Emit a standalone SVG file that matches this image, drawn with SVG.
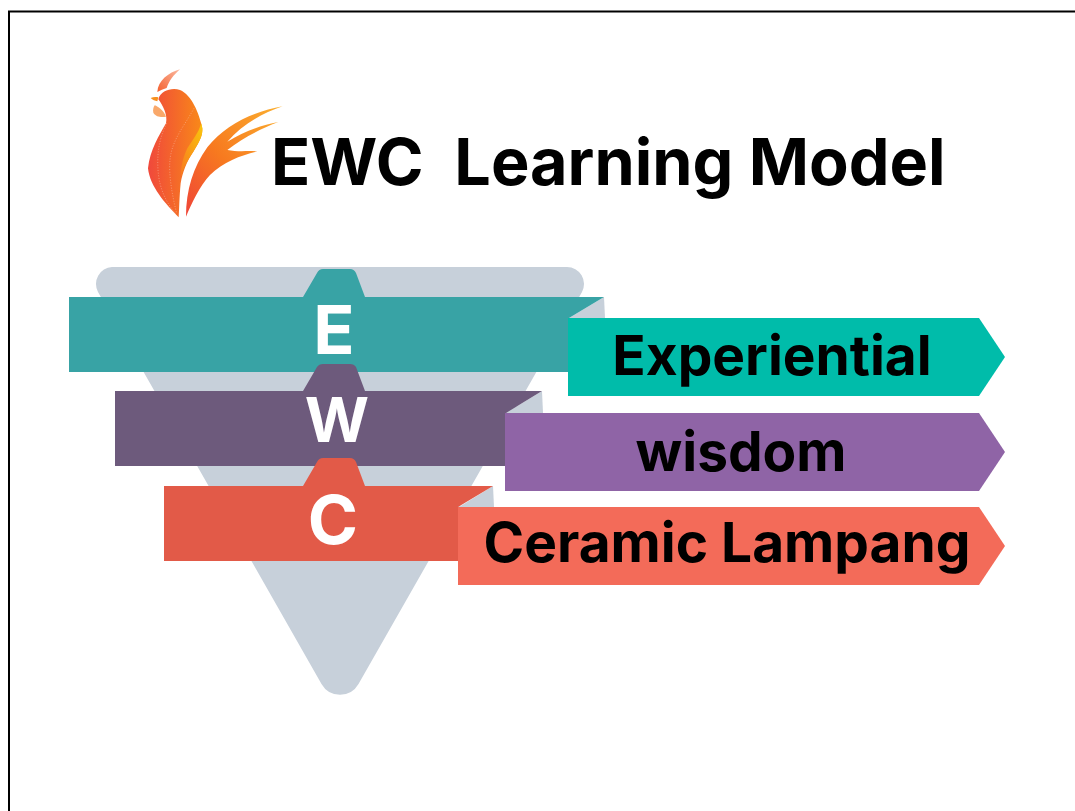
<svg xmlns="http://www.w3.org/2000/svg" width="1075" height="811" viewBox="0 0 1075 811">
<style>
.t{font-family:Inter,"Liberation Sans",sans-serif;font-weight:700;white-space:pre}
.l{font-size:55px;fill:#000;text-anchor:middle}
.k{font-size:68px;fill:#fff;text-anchor:middle}
.f{fill:#c7d0da}
.d{fill:none;stroke:#fbc9b0;stroke-width:1.5;stroke-dasharray:3 5}
</style>
<defs>
<linearGradient id="g1" x1="0" y1="0" x2="1" y2="0"><stop offset="0" stop-color="#f0483c"/><stop offset=".5" stop-color="#f4682a"/><stop offset="1" stop-color="#f98a18"/></linearGradient>
<linearGradient id="g2" x1="0" y1="1" x2="1" y2="0"><stop offset="0" stop-color="#ef4438"/><stop offset=".45" stop-color="#f7791f"/><stop offset="1" stop-color="#fbb030"/></linearGradient>
<linearGradient id="g3" x1="0" y1="1" x2="1" y2="0"><stop offset="0" stop-color="#f77a20"/><stop offset=".5" stop-color="#f9a015"/><stop offset="1" stop-color="#f9c70c"/></linearGradient>
<linearGradient id="g4" x1="0" y1="1" x2="1" y2="0"><stop offset="0" stop-color="#f4602f"/><stop offset="1" stop-color="#fbb9a0"/></linearGradient>
</defs>
<rect width="1075" height="811" fill="#fff"/>
<path d="M9 811V11.500H1075" fill="none" stroke="#000" stroke-width="2"/>
<g id="logo" transform="translate(130 60) scale(.3333)">
<path d="M146 472C105 430 60 380 54 325C60 270 88 225 108 190C114 165 98 135 85 118C92 92 125 82 150 90C185 105 208 160 217 205C218 225 212 240 190 275C170 305 158 335 152 370C148 410 148 445 146 472Z" fill="url(#g1)"/>
<path d="M217 205C218 225 212 240 190 275C172 300 160 325 153 350C152 320 160 290 172 265C188 240 205 220 214 190Z" fill="url(#g3)"/>
<path class="d" d="M192 145C165 195 125 240 120 300C116 340 125 400 140 460"/>
<path class="d" d="M110 190C85 240 80 290 85 340C90 390 110 430 138 462"/>
<path d="M82 96C84 62 115 38 150 28C130 46 118 62 110 84C100 87 91 91 82 96Z" fill="url(#g4)"/>
<path d="M62 114C70 110 78 110 85 112L82 124C75 122 68 120 62 114Z" fill="#f7901e"/>
<path d="M74 136C85 140 100 150 108 170C95 172 78 172 70 158C68 150 70 142 74 136Z" fill="#f9a86a"/>
<path d="M168 470C168 390 190 320 232 262C285 195 370 155 458 139C395 160 335 195 292 245C340 215 395 195 445 186C395 205 335 235 292 270C320 276 350 272 382 274C335 285 280 305 240 345C208 380 185 430 168 470Z" fill="url(#g2)"/>
</g>
<text class="t" x="271" y="185" font-size="64.700" fill="#000">EWC  Learning Model</text>
<g id="funnel"><path class="f" d="M112 267H567a17 17 0 0 1 15 25L358.500 684a21.300 21.300 0 0 1-37 0L98 292a17 17 0 0 1 14-25Z"/></g>
<g id="connectors"></g>
<g id="node-e">
<path fill="#c7d0da" d="M604 297L605 318H569Z"/>
<path fill="#38a3a5" d="M69 297H303L317 273Q319 269 323 269H350Q354 269 356 273L365 297H604L569 318V372H69Z"/>
<text class="t k" x="334" y="354">E</text>
<path fill="#00bcaa" d="M568 318H979L1005 357L979 396H568Z"/>
<text class="t l" x="772" y="375">Experiential</text>
</g>
<g id="node-w">
<path fill="#c7d0da" d="M542 391L543 413H506Z"/>
<path fill="#6d5a7c" d="M115 391H303L317 367Q319 364 323 364H350Q354 364 356 367L365 391H542L506 413V466H115Z"/>
<text class="t k" x="337" y="442" style="font-size:62px">W</text>
<path fill="#8f64a6" d="M505 413H979L1005 452L979 491H505Z"/>
<text class="t l" x="741" y="471">wisdom</text>
</g>
<g id="node-c">
<path fill="#c7d0da" d="M493 486L494 507H459Z"/>
<path fill="#e25a48" d="M164 486H303L317 462Q319 458 323 458H350Q354 458 356 462L365 486H493L458 507V561H164Z"/>
<text class="t k" x="333" y="544">C</text>
<path fill="#f36b59" d="M458 507H979L1005 546L979 585H458Z"/>
<text class="t l" x="727" y="562">Ceramic Lampang</text>
</g>
</svg>
